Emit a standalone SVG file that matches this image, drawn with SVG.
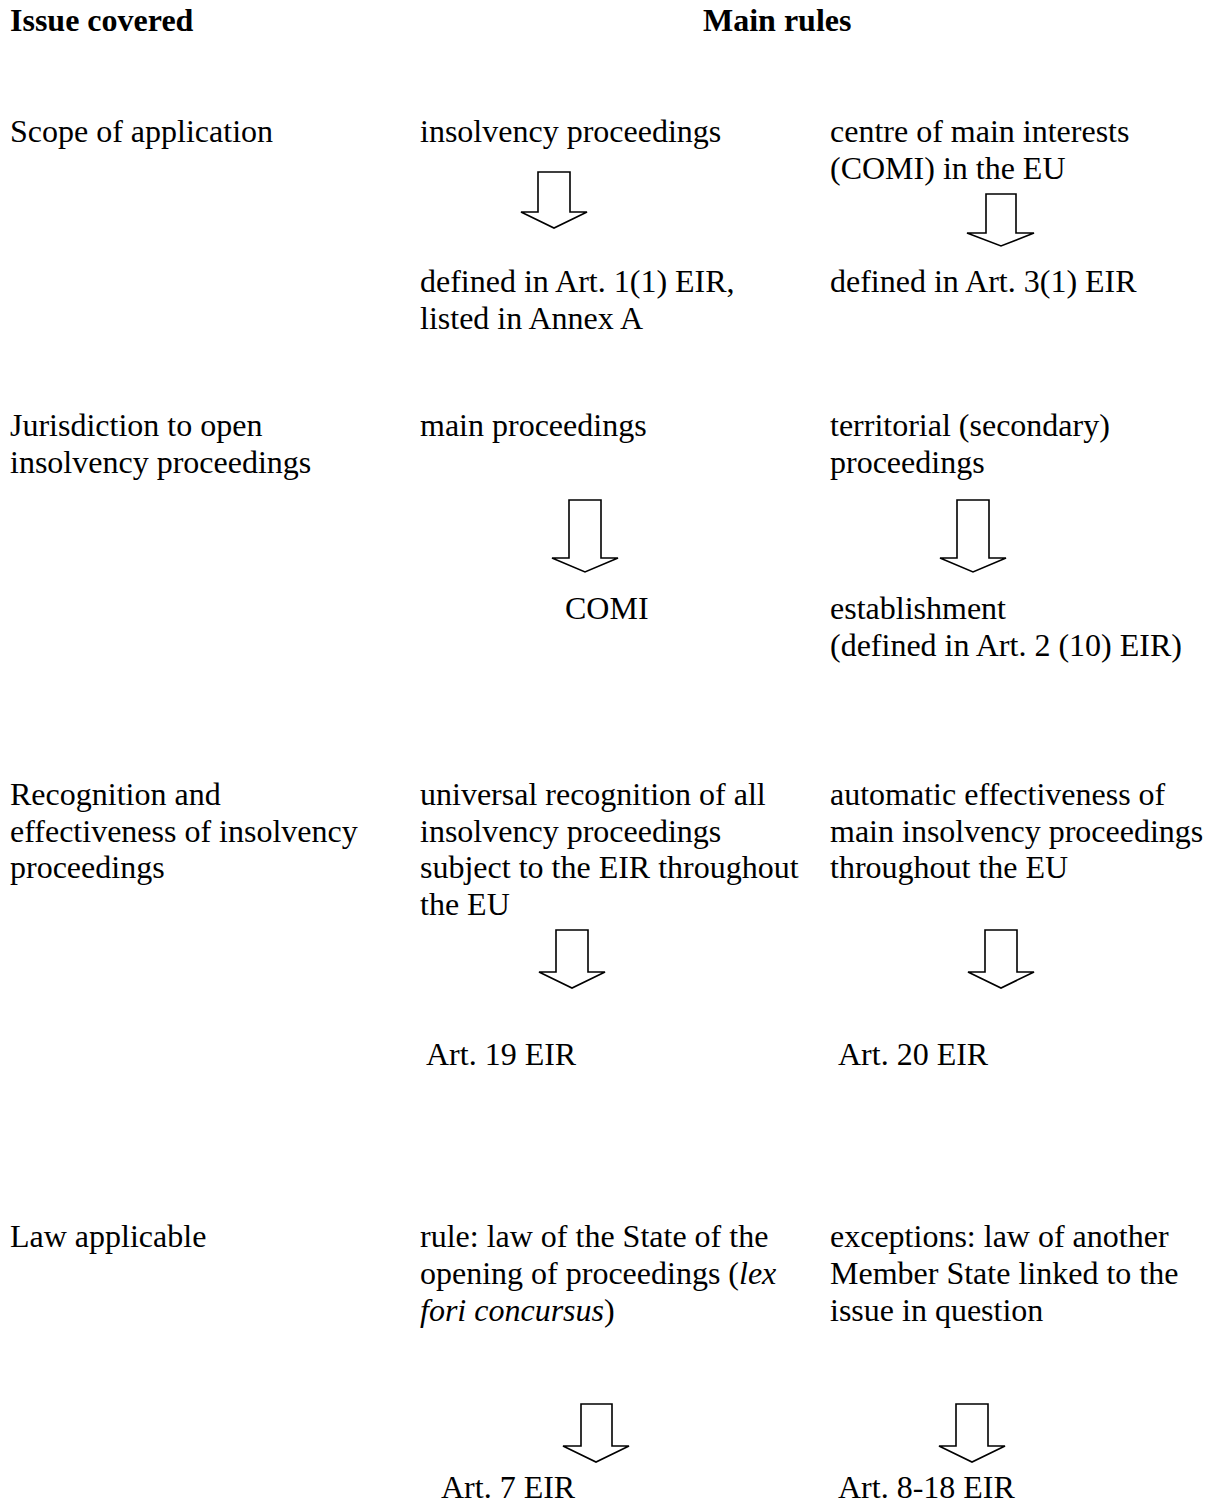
<svg xmlns="http://www.w3.org/2000/svg" width="1214" height="1508" viewBox="0 0 1214 1508">
<style>
text{font-family:"Liberation Serif","Times New Roman",serif;font-size:32px;fill:#000}
.h{font-weight:bold}
.arrow{fill:#fff;stroke:#000;stroke-width:1.6;stroke-linejoin:miter}
</style>
<rect width="1214" height="1508" fill="#fff"/>
<g id="headers">
<text class="h" x="10" y="31">Issue covered</text>
<text class="h" x="703" y="31">Main rules</text>
</g>
<g id="row-scope">
<text x="10" y="142">Scope of application</text>
<g id="n-insolvency"><text x="420" y="142">insolvency proceedings</text></g>
<g id="n-comi"><text x="830" y="142">centre of main interests</text><text x="830" y="179">(COMI) in the EU</text></g>
<g id="n-art1"><text x="420" y="292">defined in Art. 1(1) EIR,</text><text x="420" y="329">listed in Annex A</text></g>
<g id="n-art3"><text x="830" y="292">defined in Art. 3(1) EIR</text></g>
</g>
<g id="row-jurisdiction">
<text x="10" y="436">Jurisdiction to open</text><text x="10" y="473">insolvency proceedings</text>
<g id="n-main"><text x="420" y="436">main proceedings</text></g>
<g id="n-territorial"><text x="830" y="436">territorial (secondary)</text><text x="830" y="473">proceedings</text></g>
<g id="n-comi2"><text x="565" y="619">COMI</text></g>
<g id="n-establishment"><text x="830" y="619">establishment</text><text x="830" y="656">(defined in Art. 2 (10) EIR)</text></g>
</g>
<g id="row-recognition">
<text x="10" y="805">Recognition and</text><text x="10" y="842">effectiveness of insolvency</text><text x="10" y="878">proceedings</text>
<g id="n-universal"><text x="420" y="805">universal recognition of all</text><text x="420" y="842">insolvency proceedings</text><text x="420" y="878">subject to the EIR throughout</text><text x="420" y="915">the EU</text></g>
<g id="n-automatic"><text x="830" y="805">automatic effectiveness of</text><text x="830" y="842">main insolvency proceedings</text><text x="830" y="878">throughout the EU</text></g>
<g id="n-art19"><text x="426" y="1065">Art. 19 EIR</text></g>
<g id="n-art20"><text x="838" y="1065">Art. 20 EIR</text></g>
</g>
<g id="row-law">
<text x="10" y="1247">Law applicable</text>
<g id="n-rule"><text x="420" y="1247">rule: law of the State of the</text><text x="420" y="1284">opening of proceedings (<tspan font-style="italic">lex</tspan></text><text x="420" y="1321"><tspan font-style="italic">fori concursus</tspan>)</text></g>
<g id="n-exceptions"><text x="830" y="1247">exceptions: law of another</text><text x="830" y="1284">Member State linked to the</text><text x="830" y="1321">issue in question</text></g>
<g id="n-art7"><text x="441" y="1498">Art. 7 EIR</text></g>
<g id="n-art8"><text x="838" y="1498">Art. 8-18 EIR</text></g>
</g>
<g id="connectors">
<polygon class="arrow" points="538,172 570,172 570,212 587,212 554,228 521,212 538,212"/>
<polygon class="arrow" points="986,194 1016,194 1016,233 1034,233 1001,246 967,233 986,233"/>
<polygon class="arrow" points="569,500 601,500 601,558 618,558 585,572 552,558 569,558"/>
<polygon class="arrow" points="957,500 989,500 989,558 1006,558 973,572 940,558 957,558"/>
<polygon class="arrow" points="556,930 588,930 588,972 605,972 572,988 539,972 556,972"/>
<polygon class="arrow" points="985,930 1017,930 1017,972 1034,972 1001,988 968,972 985,972"/>
<polygon class="arrow" points="581,1404 612,1404 612,1446 629,1446 596,1462 563,1446 581,1446"/>
<polygon class="arrow" points="956,1404 988,1404 988,1446 1005,1446 972,1462 939,1446 956,1446"/>
</g>
</svg>
